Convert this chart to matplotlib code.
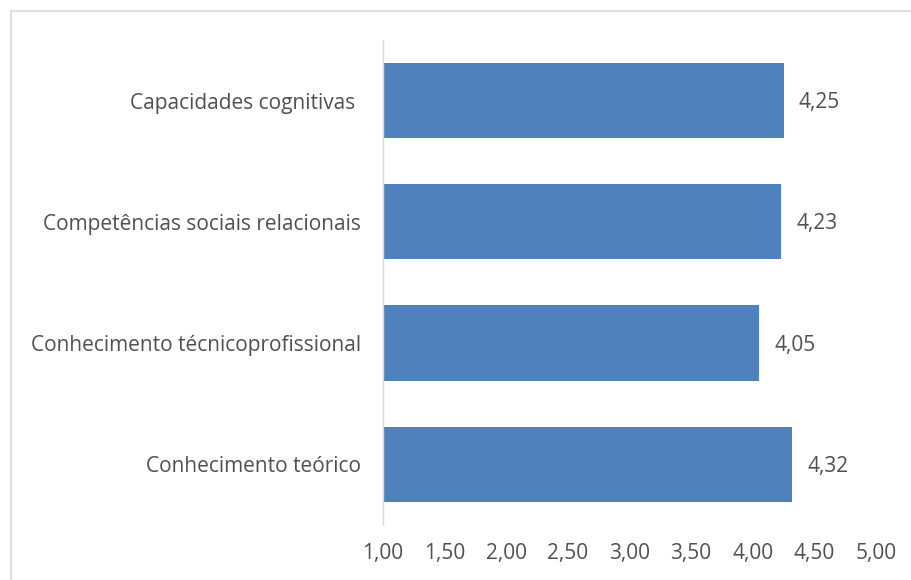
import matplotlib.pyplot as plt
from matplotlib.lines import Line2D

# Dados do gráfico (de baixo para cima)
categorias = ["Conhecimento teórico", "Conhecimento técnicoprofissional",
              "Competências sociais relacionais", "Capacidades cognitivas "]
valores = [4.32, 4.05, 4.23, 4.25]
ticks_x = [1.0, 1.5, 2.0, 2.5, 3.0, 3.5, 4.0, 4.5, 5.0]

cor_barra = "#4F81BD"
cor_texto = "#505050"

plt.rcParams['font.family'] = ['Open Sans', 'DejaVu Sans']

fig = plt.figure(figsize=(9.12, 5.8), dpi=100)
ax = fig.add_axes([0.42, 0.095, 0.5405, 0.836])

pos = range(len(categorias))
ax.barh(pos, [v - 1.0 for v in valores], left=1.0, height=0.62, color=cor_barra)

for p, v in zip(pos, valores):
    ax.annotate(f"{v:.2f}".replace(".", ","), (v, p), xytext=(11, -1.5),
                textcoords="offset points", va="center", ha="left",
                fontsize=15, color=cor_texto)

ax.set_xlim(1.0, 5.0)
ax.set_ylim(-0.5, 3.5)
ax.set_xticks(ticks_x)
ax.set_xticklabels([f"{t:.2f}".replace(".", ",") for t in ticks_x])
ax.set_yticks(list(pos))
ax.set_yticklabels(categorias)
ax.tick_params(axis="both", length=0, labelsize=15, colors=cor_texto)
ax.tick_params(axis="x", pad=13)
ax.tick_params(axis="y", pad=16)

for s in ["top", "right", "bottom"]:
    ax.spines[s].set_visible(False)
ax.spines["left"].set_color("#D9D9D9")
ax.spines["left"].set_linewidth(1.0)

# moldura do gráfico
bx = 11 / 912
by = 1 - 11 / 580
fig.add_artist(Line2D([bx, bx], [0, by], transform=fig.transFigure, color="#D9D9D9", lw=1.2))
fig.add_artist(Line2D([bx, 1], [by, by], transform=fig.transFigure, color="#D9D9D9", lw=1.2))

fig.savefig("out.png", dpi=100)
